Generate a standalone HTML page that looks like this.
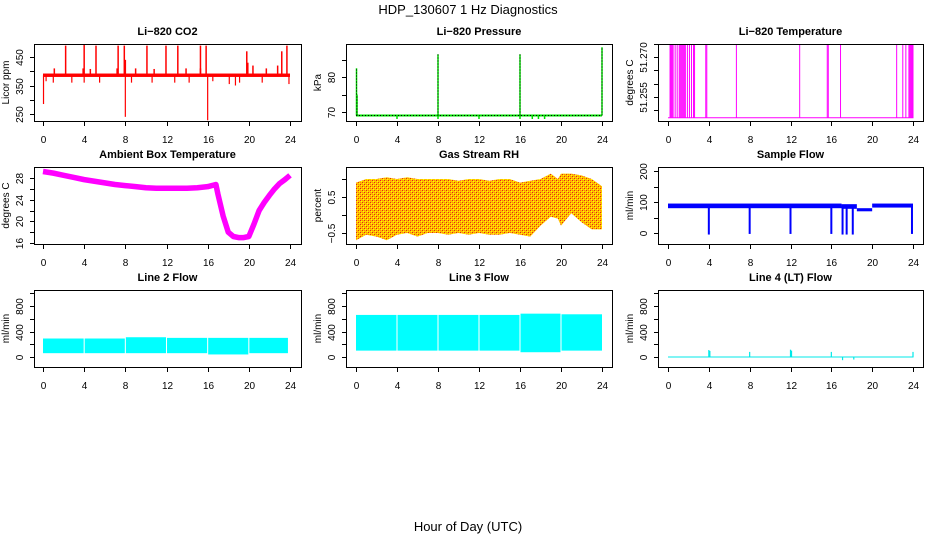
<!DOCTYPE html>
<html><head><meta charset="utf-8"><style>
html,body{margin:0;padding:0;background:#fff}
svg{display:block;font-family:"Liberation Sans",Arial,sans-serif}
</style></head><body>
<svg id="c" width="936" height="540" viewBox="0 0 936 540" xmlns="http://www.w3.org/2000/svg">
<defs>
<pattern id="rhpat" width="4" height="4" patternUnits="userSpaceOnUse">
<rect width="4" height="4" fill="#ffc000"/><rect x="0" y="0" width="1" height="1" fill="#e02020"/><rect x="2" y="2" width="1" height="1" fill="#e03010"/><rect x="1" y="1" width="1" height="1" fill="#ffff00"/><rect x="3" y="3" width="1" height="1" fill="#ffff00"/><rect x="2" y="0" width="1" height="1" fill="#ff8c00"/><rect x="0" y="2" width="1" height="1" fill="#ff8c00"/>
</pattern>
</defs>
<text x="468" y="14" text-anchor="middle" font-size="13">HDP_130607  1 Hz Diagnostics</text>
<text x="468" y="531" text-anchor="middle" font-size="13">Hour of Day (UTC)</text>
<g id="plots"></g>
</svg>
<script>
// ---- data ----
const xTicks = [0,4,8,12,16,20,24];
// CO2 (ppm)
const co2Base = [380, 392];
const co2UpHours = [2.2,4.0,5.15,7.3,7.9,10.1,11.95,13.1,15.3,15.85,19.8,23.2,23.7];
const co2UpVals  = [490,492,490,490,490,490,490,490,490,490,470,470,490];
const co2SmallHours = [1.1,3.9,4.6,7.2,8.0,9.0,10.8,13.9,15.3,19.9,20.4,21.7,22.8];
const co2SmallVals  = [410,410,408,410,440,410,408,410,410,430,420,410,420];
const co2DownHours = [0.05,0.3,1.0,2.8,4.0,5.5,8.0,8.6,10.6,12.8,14.2,16.0,16.5,18.1,18.7,19.1,21.3,23.9];
const co2DownVals  = [285,365,360,360,360,360,240,360,360,360,360,228,365,355,350,360,360,355];
const co2Ticks = [250,300,350,400,450];
const co2Labels = ["250","","350","","450"];
// Pressure (kPa)
const presBase = 69.0;
const presSpikeHours = [0.05,0.1,8.0,16.0,24.0];
const presSpikeVals  = [82.5,75,86.5,86.5,88.5];
const presDipHours = [4.0,8.0,12.0,16.0,17.2,17.8,18.4];
const presDipVals  = [68,68,68,68,68,68,68];
const presTicks = [70,75,80,85];
const presLabels = ["70","","80",""];
// Li-820 Temperature
const tempLow = 51.2472, tempHigh = 51.28;
const tempHighHours = [0.2,0.3,0.4,0.5,0.7,0.9,1.1,1.2,1.3,1.4,1.5,1.6,1.7,1.9,2.1,2.3,2.5,2.6,3.7,3.8,6.7,12.9,15.6,15.7,16.9,22.4,23.0,23.3,23.6,23.7,23.8,23.9,24.0];
const tempTicks = [51.250,51.255,51.260,51.265,51.270,51.275];
const tempLabels = ["","51.255","","","51.270",""];
// Ambient Box Temperature
const ambHours = [0,1,2,3,4,5,6,7,8,9,10,11,12,13,14,15,16,16.8,17,17.5,18,18.5,19,19.5,20,20.5,21,21.5,22,22.5,23,23.5,24];
const ambVals  = [29.2,28.9,28.5,28.1,27.7,27.4,27.1,26.8,26.6,26.4,26.2,26.1,26.1,26.1,26.1,26.2,26.4,26.8,25.0,21.0,18.0,17.2,17.0,17.0,17.2,19.5,22.0,23.5,24.8,26.0,27.0,27.7,28.5];
const ambTicks = [16,18,20,22,24,26,28];
const ambLabels = ["16","","20","","24","","28"];
// Gas Stream RH
const rhHours = [0,1,2,3,4,5,6,7,8,9,10,11,12,13,14,15,16,17,18,19,19.7,20,21,22,23,24];
const rhUpper = [0.9,1.0,1.0,1.05,1.0,1.05,1.0,1.0,1.0,1.0,0.95,1.0,1.0,0.95,1.0,1.0,0.9,0.95,1.0,1.15,1.0,1.15,1.15,1.1,1.0,0.8];
const rhLower = [-0.7,-0.55,-0.6,-0.7,-0.55,-0.5,-0.6,-0.5,-0.5,-0.55,-0.5,-0.55,-0.5,-0.55,-0.55,-0.5,-0.55,-0.6,-0.3,-0.05,-0.1,-0.3,0.05,-0.2,-0.4,-0.4];
const rhTicks = [-0.5,0,0.5,1.0];
const rhLabels = ["\u22120.5","","0.5",""];
// Sample Flow
const sfSegStart = [0,17,18.5,20];
const sfSegEnd   = [17,18.5,20,24];
const sfSegLow   = [80,78,70,82];
const sfSegHigh  = [95,93,80,95];
const sfDipHours = [4.0,8.0,12.0,16.0,17.1,17.5,18.1,23.9];
const sfDipVals  = [-5,-3,-3,-3,-5,-5,-5,-3];
const sfTicks = [0,50,100,150,200];
const sfLabels = ["0","","100","","200"];
// Line flows
const flowTicks = [-200,0,200,400,600,800,1000];
const flowLabels = ["","0","","400","","800",""];
const l2SegStart = [0,4.05,8.05,12.05,16.05,20.05];
const l2SegEnd   = [3.95,7.95,11.95,15.95,19.95,23.8];
const l2SegLow   = [60,60,60,60,40,60];
const l2SegHigh  = [290,290,310,300,300,300];
const l3SegStart = [0,4.05,8.05,12.05,16.05,20.05];
const l3SegEnd   = [3.95,7.95,11.95,15.95,19.95,24];
const l3SegLow   = [100,100,100,100,75,100];
const l3SegHigh  = [660,660,660,660,680,670];
const l4SpikeHours = [4.0,4.1,8.0,12.0,12.1,16.0,17.1,18.2,24.0];
const l4SpikeVals  = [110,95,80,115,100,80,-50,-40,80];

// ---- layout ----
const colL=[34,346,658], colR=[301,612,923], x0s=[43,356,668], x24s=[290,602,913];
const rowT=[44,167,290], rowB=[121,244,367];
const NS="http://www.w3.org/2000/svg";
const root=document.getElementById('plots');
function mk(tag,attrs,parent){const e=document.createElementNS(NS,tag);for(const k in attrs)e.setAttribute(k,attrs[k]);(parent||root).appendChild(e);return e;}

function panel(col,row,title,ylab,v1,y1,v2,y2,yt,yl,name){
  const g=mk('g',{});
  
  
  const L=colL[col],R=colR[col],T=rowT[row],B=rowB[row];
  const xs=h=>x0s[col]+h*(x24s[col]-x0s[col])/24;
  const ys=v=>y1+(v-v1)*(y2-y1)/(v2-v1);
  const clipId='clip'+col+row;
  const cp=mk('clipPath',{id:clipId},g);mk('rect',{x:L,y:T,width:R-L,height:B-T},cp);
  const plot=mk('g',{'clip-path':'url(#'+clipId+')'},g);
  
  
  const t=mk('text',{x:(L+R)/2,y:T-9,'text-anchor':'middle','font-size':11,'font-weight':'bold'},g);t.textContent=title;
  
  
  const bx=mk('rect',{x:L+0.5,y:T+0.5,width:R-L,height:B-T,fill:'none',stroke:'#000','stroke-width':1},g);
  
  
  const xa=mk('g',{},g);
  
  
  xTicks.forEach(h=>{const x=Math.round(xs(h))+0.5;mk('line',{x1:x,x2:x,y1:B+1,y2:B+5,stroke:'#000'},xa);
    const tx=mk('text',{x:x,y:B+22,'text-anchor':'middle','font-size':10},xa);tx.textContent=h;});
  const ya=mk('g',{},g);
  
  
  yt.forEach((v,i)=>{const y=Math.round(ys(v))+0.5;if(y<T-1||y>B+1)return;mk('line',{x1:L-4,x2:L,y1:y,y2:y,stroke:'#000'},ya);
    if(yl[i]){const tx=mk('text',{x:L-11,y:y,'text-anchor':'middle','font-size':10,transform:'rotate(-90 '+(L-11)+' '+y+')'},ya);tx.textContent=yl[i];}});
  const yc=(T+B)/2;
  const yt2=mk('text',{x:L-25,y:yc,'text-anchor':'middle','font-size':10,transform:'rotate(-90 '+(L-25)+' '+yc+')'},g);yt2.textContent=ylab;
  
  
  return {plot,xs,ys};
}
function vline(p,h,a,b,color,w,dash){const o={x1:p.xs(h),x2:p.xs(h),y1:p.ys(a),y2:p.ys(b),stroke:color,'stroke-width':w||1.5};if(dash)o['stroke-dasharray']=dash;return mk('line',o,p.plot);}

let p=panel(0,0,'Li\u2212820 CO2','Licor ppm',450,57,250,114,co2Ticks,co2Labels,'co2');
mk('rect',{x:p.xs(0),y:p.ys(co2Base[1]),width:p.xs(24)-p.xs(0),height:p.ys(co2Base[0])-p.ys(co2Base[1]),fill:'#ff0000'},p.plot);
co2UpHours.forEach((h,i)=>vline(p,h,386,co2UpVals[i],'#ff0000',1.5));
co2SmallHours.forEach((h,i)=>vline(p,h,386,co2SmallVals[i],'#ff0000',1.5));
co2DownHours.forEach((h,i)=>vline(p,h,386,co2DownVals[i],'#ff0000',1.2));

p=panel(1,0,'Li\u2212820 Pressure','kPa',70,112,80,77,presTicks,presLabels,'pressure');
mk('line',{x1:p.xs(0),x2:p.xs(24),y1:p.ys(presBase),y2:p.ys(presBase),stroke:'#00e000','stroke-width':2},p.plot);
mk('line',{x1:p.xs(0),x2:p.xs(24),y1:p.ys(presBase),y2:p.ys(presBase),stroke:'#000','stroke-width':1,'stroke-dasharray':'1 2'},p.plot);
presSpikeHours.forEach((h,i)=>{vline(p,h,presBase,presSpikeVals[i],'#00e000',1.5);vline(p,h,presBase,presSpikeVals[i],'#000',1,'1 2');});
presDipHours.forEach((h,i)=>vline(p,h,presBase,presDipVals[i],'#00e000',1.5));

p=panel(2,0,'Li\u2212820 Temperature','degrees C',51.255,97,51.270,57,tempTicks,tempLabels,'li820-temp');
mk('line',{x1:p.xs(0),x2:p.xs(24.05),y1:p.ys(tempLow),y2:p.ys(tempLow),stroke:'#ff00ff','stroke-width':1},p.plot);
tempHighHours.forEach(h=>vline(p,h,tempLow,tempHigh,'#ff00ff',1));

p=panel(0,1,'Ambient Box Temperature','degrees C',16,243,28,178,ambTicks,ambLabels,'ambient-temp');
mk('polyline',{points:ambHours.map((h,i)=>p.xs(h)+','+p.ys(ambVals[i])).join(' '),fill:'none',stroke:'#ff00ff','stroke-width':5.5,'stroke-linejoin':'round'},p.plot);

p=panel(1,1,'Gas Stream RH','percent',-0.5,233,0.5,197,rhTicks,rhLabels,'gas-rh');
const pts=rhHours.map((h,i)=>p.xs(h)+','+p.ys(rhUpper[i])).concat(rhHours.slice().reverse().map((h,i)=>p.xs(h)+','+p.ys(rhLower[rhHours.length-1-i])));
mk('polygon',{points:pts.join(' '),fill:'url(#rhpat)'},p.plot);

p=panel(2,1,'Sample Flow','ml/min',0,233,200,171,sfTicks,sfLabels,'sample-flow');
sfSegStart.forEach((s,i)=>mk('rect',{x:p.xs(s),y:p.ys(sfSegHigh[i]),width:p.xs(sfSegEnd[i])-p.xs(s),height:p.ys(sfSegLow[i])-p.ys(sfSegHigh[i]),fill:'#0000ff'},p.plot));
sfDipHours.forEach((h,i)=>vline(p,h,85,sfDipVals[i],'#0000ff',2));

p=panel(0,2,'Line 2 Flow','ml/min',0,357,800,306,flowTicks,flowLabels,'line2-flow');
l2SegStart.forEach((s,i)=>mk('rect',{x:p.xs(s),y:p.ys(l2SegHigh[i]),width:p.xs(l2SegEnd[i])-p.xs(s),height:p.ys(l2SegLow[i])-p.ys(l2SegHigh[i]),fill:'#00ffff'},p.plot));

p=panel(1,2,'Line 3 Flow','ml/min',0,357,800,306,flowTicks,flowLabels,'line3-flow');
l3SegStart.forEach((s,i)=>mk('rect',{x:p.xs(s),y:p.ys(l3SegHigh[i]),width:p.xs(l3SegEnd[i])-p.xs(s),height:p.ys(l3SegLow[i])-p.ys(l3SegHigh[i]),fill:'#00ffff'},p.plot));

p=panel(2,2,'Line 4 (LT) Flow','ml/min',0,357,800,306,flowTicks,flowLabels,'line4-flow');
mk('line',{x1:p.xs(0),x2:p.xs(24.05),y1:p.ys(0),y2:p.ys(0),stroke:'#00e8e8','stroke-width':1},p.plot);
l4SpikeHours.forEach((h,i)=>vline(p,h,0,l4SpikeVals[i],'#00e8e8',1.2));
</script>
</body></html>
